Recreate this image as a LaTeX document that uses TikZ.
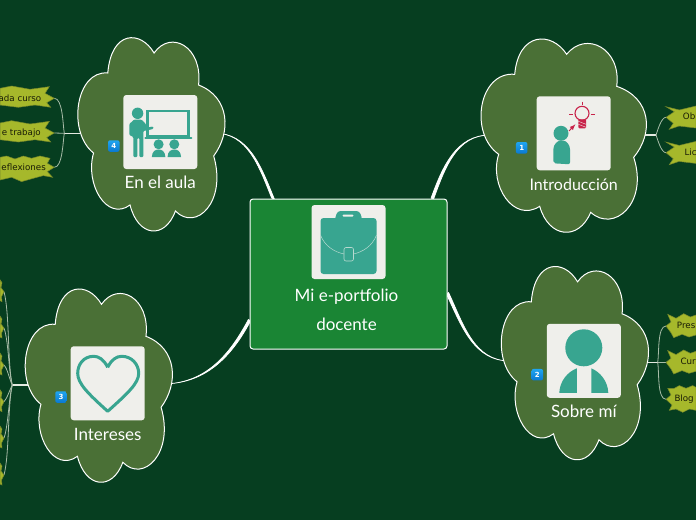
\documentclass[tikz,border=0pt]{standalone}
\usepackage{fontspec}
\setmainfont{DejaVu Sans}
\newfontfamily\handfont{Lato}
\usetikzlibrary{backgrounds,calc}

\definecolor{pagegreen}{HTML}{063E20}
\definecolor{cloudgreen}{HTML}{4A7036}
\definecolor{maingreen}{HTML}{1A8534}
\definecolor{cardgrey}{HTML}{EFEFEB}
\definecolor{iconteal}{HTML}{38A590}
\definecolor{iconred}{HTML}{C8234A}
\definecolor{leafgreen}{HTML}{A6B82B}
\definecolor{leafedge}{HTML}{76882A}
\definecolor{twiggrey}{HTML}{A8BCA8}
\definecolor{badgetop}{HTML}{1FA5F0}
\definecolor{badgebottom}{HTML}{0A78D0}

\newcommand{\trunk}[6]{
\fill [trunkline] ($(#1)+(#5,#6)$) to[out=#3,in=#4] (#2) to[out=#4,in=#3] ($(#1)-(#5,#6)$) -- cycle;
}

\tikzset{
  trunkline/.style={draw=white, fill=white, line width=0.7pt},
  stub/.style={draw=white!85!cloudgreen, line width=1.3pt},
  twig/.style={draw=twiggrey, line width=0.8pt, looseness=0.6},
  cloudline/.style={draw=white, fill=cloudgreen, line width=1pt},
  card/.style={fill=cardgrey, rounded corners=3pt, minimum size=74pt, inner sep=0pt},
  topic/.style={text=white, font=\handfont\fontsize{17}{20}\selectfont},
  badge/.style={top color=badgetop, bottom color=badgebottom, rounded corners=2pt,
    minimum size=11.5pt, inner sep=0pt, text=white, font=\fontsize{7}{8}\bfseries\selectfont},
  leafshape/.style={fill=leafgreen, draw=leafedge, line width=0.5pt},
  leaftext/.style={text=black!85!leafgreen, inner sep=0pt, font=\fontsize{8.7}{11}\selectfont},
  cloud/.pic={
    \draw [cloudline] (-7,-79) .. controls (-22,-102) and (-55,-102) .. (-59,-59)
      .. controls (-95,-62) and (-105,0) .. (-75,21)
      .. controls (-85,52) and (-60,90) .. (-34,73)
      .. controls (-25,105) and (5,108) .. (17,79)
      .. controls (40,100) and (75,70) .. (60,24)
      .. controls (80,0) and (78,-35) .. (43,-47)
      .. controls (48,-85) and (12,-103) .. (-7,-79) -- cycle;
  },
  leftleaf/.pic={
    \filldraw [leafshape] (-54.3,-10) -- (-42.6,-12.3) -- (-24.3,-9) -- (-5,-11.6) -- (-9.3,-5) -- (0,0)
      -- (-7.6,4.4) -- (-3.6,9) -- (-19.3,6.7) -- (-36,9) -- (-54.3,6.7) -- cycle;
  },
  wavyleaf/.pic={
    \filldraw [leafshape] (-54.3,-10) -- (-47.6,-11.3) -- (-39.3,-8.3) -- (-31,-11.3) -- (-22.7,-9) -- (-14.3,-11.3)
      -- (-4.3,-9) -- (-7,-4) -- (0,0) -- (-7,4.3) -- (-1.7,10) -- (-11,8.3) -- (-21,11) -- (-32.7,14.3)
      -- (-42.7,10) -- (-54.3,12.7) -- cycle;
  },
  rightleaf/.pic={
    \filldraw [leafshape] (0,-10.6) -- (13.3,-7.3) -- (30,-11.3) -- (30,10.7) -- (13,8.7) -- (3.3,12)
      -- (7.3,6) -- (0,0) -- (8.3,-5.6) -- cycle;
  },
  spikyleaf/.pic={
    \filldraw [leafshape] (1.7,-11.7) -- (10,-7.7) -- (17.7,-12.3) -- (24.3,-9) -- (30,-11) -- (30,9) -- (23,11)
      -- (16,8.3) -- (7.7,11.7) -- (5,6.7) -- (0,0) -- (5,-4) -- cycle;
  },
  blogleaf/.pic={
    \filldraw [leafshape] (1.7,-11) -- (8.3,-11) -- (13.3,-13.7) -- (20,-11) -- (26.7,-13.7) -- (30,-12) -- (30,11)
      -- (23.3,9.7) -- (16.7,13) -- (10,9.7) -- (3.3,11) -- (6,5.7) -- (0,0) -- (5,-4.3) -- cycle;
  },
  sideleaf/.pic={
    \filldraw [leafshape] (-4,-12) -- (-2,-9) -- (-3,-4) -- (0,0) -- (-2.5,5) -- (-2,10) -- (-4,9) -- cycle;
  },
  bagicon/.pic={
    \fill [iconteal, rounded corners=3pt] (-14,-22) -- (-11,-31) -- (11,-31) -- (14,-22) -- cycle;
    \fill [iconteal, rounded corners=3pt] (-28,-24) rectangle (28,32);
    \fill [cardgrey, rounded corners=1pt] (-6,-27.5) rectangle (5,-25.5);
    \draw [cardgrey!70!iconteal, line width=0.5pt] (-28,-7) .. controls (-24,4) and (-14,10) .. (-4.5,12);
    \draw [cardgrey!70!iconteal, line width=0.5pt] (28,-7) .. controls (24,4) and (14,10) .. (5,12);
    \draw [cardgrey!70!iconteal, line width=0.6pt, rounded corners=2pt] (-4.5,5.5) rectangle (5,19);
  },
  introicon/.pic={
    \fill [iconteal] (-12.7,0) circle (7.5);
    \fill [iconteal, rounded corners=2pt] (-20.3,30) -- (-20.3,17) .. controls (-20,11) and (-16,7.5) .. (-12,7.5)
      .. controls (-7,7.5) and (-3.7,12) .. (-3.7,18) -- (-3.7,31) -- cycle;
    \draw [iconred, line width=1pt, -latex] (-4.7,-2.3) -- (1.7,-9);
    \draw [iconred, line width=1.1pt] (8.3,-20) circle (7);
    \fill [iconred, rounded corners=1pt] (4.7,-14) rectangle (12.3,-5);
    \draw [cardgrey, line width=0.4pt] (4.7,-12) -- (12.3,-9) (4.7,-9) -- (12.3,-6);
    \draw [iconred, line width=1pt] (8.3,-31.7) -- (8.3,-28) (-4.3,-19.3) -- (-0.3,-19.3) (17,-19.3) -- (21,-19.3);
  },
  teachicon/.pic={
    \fill [iconteal] (-22.7,-18.7) circle (5.7);
    \fill [iconteal, rounded corners=1pt] (-26,-12.5) -- (-19,-12.5) -- (-14.5,-8) -- (-13.5,-4.5) -- (-7,-5.5) -- (-7,-3)
      -- (-17,-1) -- (-17,25) -- (-21,25) -- (-21,6) -- (-23,6) -- (-23,25) -- (-27,25) -- (-27,5) -- (-31,3) -- (-31,-8) -- cycle;
    \draw [iconteal, line width=2.4pt] (-13,-21) rectangle (28,4);
    \draw [iconteal, line width=2pt, line cap=round] (-15,5.5) -- (31,5.5);
    \foreach \sx in {-1.7,14} {
      \fill [iconteal] (\sx,12.3) circle (5);
      \fill [iconteal] (\sx-6.8,25) .. controls (\sx-6.5,19) and (\sx-3,17.5) .. (\sx,17.5)
        .. controls (\sx+3,17.5) and (\sx+6.5,19) .. (\sx+6.8,25) -- cycle;
    }
  },
  personicon/.pic={
    \fill [iconteal] (0,-13) circle (18.5);
    \fill [iconteal] (-7,7.5) -- (-7,32) -- (-24.5,32) .. controls (-24,20) and (-16,11) .. (-7,7.5) -- cycle;
    \fill [iconteal] (7.5,7.5) -- (7.5,32) -- (24.5,32) .. controls (24,20) and (16,11) .. (7.5,7.5) -- cycle;
  },
  hearticon/.pic={
    \draw [iconteal, line width=3pt, line join=round] (0,-16) .. controls (-4,-24) and (-9,-27) .. (-14,-27)
      .. controls (-24,-27) and (-30,-19) .. (-30,-10) .. controls (-30,0) and (-20,10) .. (0,28)
      .. controls (20,10) and (31,0) .. (31,-10) .. controls (31,-19) and (24,-27) .. (14,-27)
      .. controls (9,-27) and (4,-24) .. (0,-16);
  }
}

\begin{document}
\begin{tikzpicture}[x=1pt, y=-1pt]

\useasboundingbox (0,0) rectangle (696,520);

\begin{scope}[on background layer]
\fill [pagegreen] (0,0) rectangle (696,520);
\end{scope}

\pic at (573.7,133.3) {cloud};
\pic [xscale=0.89] at (160.3,132) {cloud};
\pic [xscale=0.89] at (107.7,383.3) {cloud};
\pic [xscale=0.89] at (583.8,360.8) {cloud};

\node [fill=maingreen, draw=white, line width=1pt, rounded corners=3pt, minimum width=197pt, minimum height=150pt] (main) at (348.5,274) {};

\node [card] (bagcard) at (348.5,242) {};
\node [card] (intro) at (573.7,133.3) {};
\node [card] (aula) at (160.3,132) {};
\node [card] (intereses) at (107.7,383.3) {};
\node [card] (sobre) at (583.8,360.8) {};

\pic at (bagcard) {bagicon};
\pic at (intro) {introicon};
\pic at (aula) {teachicon};
\pic at (intereses) {hearticon};
\pic at (sobre) {personicon};

\node [topic, align=center] (maintitle) at (346.5,310) {Mi e-portfolio\\[9pt]docente};
\node [topic, font=\handfont\fontsize{16}{20}\selectfont] (introtitle) at (573.7,185) {Introducción};
\node [topic] (aulatitle) at (160.3,182.7) {En el aula};
\node [topic] (interesestitle) at (107.7,434) {Intereses};
\node [topic] (sobretitle) at (583.8,411.7) {Sobre mí};

\node [badge] (badgeone) at ($(intro)+(-52,14.5)$) {1};
\node [badge] (badgetwo) at ($(sobre)+(-46.5,13.9)$) {2};
\node [badge] (badgethree) at ($(intereses)+(-46.7,13.7)$) {3};
\node [badge] (badgefour) at ($(aula)+(-46.5,14)$) {4};

\coordinate (aulain) at (214,133);
\coordinate (introin) at (490,135);
\coordinate (interesesin) at (162,384);
\coordinate (sobrein) at (510,361);

\coordinate (aulahub) at (64.3,133.3);
\coordinate (introhub) at (656,135);
\coordinate (sobrehub) at (657.7,362.3);
\coordinate (intereseshub) at (12.3,385);

\coordinate (tipcurso) at (54.3,98.3);
\coordinate (tiptrabajo) at (54.3,133);
\coordinate (tipreflex) at (54.3,167.3);
\coordinate (tipob) at (666,117.3);
\coordinate (tiplic) at (666,152.7);
\coordinate (tippres) at (666,326);
\coordinate (tipcur) at (666,362.3);
\coordinate (tipblog) at (666,399.3);

\pic at (tipcurso) {leftleaf};
\pic at (tiptrabajo) {leftleaf};
\pic at (tipreflex) {wavyleaf};
\pic at (tipob) {rightleaf};
\pic at (tiplic) {rightleaf};
\pic at (tippres) {spikyleaf};
\pic at (tipcur) {spikyleaf};
\pic at (tipblog) {blogleaf};

\node [leaftext, anchor=east] (curso) at (41.5,98) {ada curso};
\node [leaftext, anchor=east] (trabajo) at (41,132.7) {e trabajo};
\node [leaftext, anchor=east] (reflex) at (46,167.7) {eflexiones};
\node [leaftext, anchor=west] (ob) at (682.7,116.7) {Ob};
\node [leaftext, anchor=west] (lic) at (684.3,152.7) {Lic};
\node [leaftext, anchor=east] (pres) at (695.5,325.7) {Pres};
\node [leaftext, anchor=west] (cur) at (680.3,361.7) {Cur};
\node [leaftext, anchor=west] (blog) at (674.3,399) {Blog};

\begin{scope}[on background layer]
\trunk{main.135}{aulain}{112}{0}{1.3}{0.4}
\trunk{main.42}{introin}{70}{180}{1.3}{0.4}
\trunk{main.205}{interesesin}{242}{0}{1.1}{0.7}
\trunk{main.349}{sobrein}{-65}{180}{1.1}{-0.7}

\draw [stub] (aula) -- (aulahub -| aula) -- (aulahub);
\draw [stub] (intro) -- (introhub -| intro) -- (introhub);
\draw [stub] (sobre) -- (sobrehub -| sobre) -- (sobrehub);
\draw [stub] (intereses) -- (intereseshub -| intereses) -- (intereseshub);

\draw [twig] (aulahub) to[out=100,in=0] (tipcurso);
\draw [twig] (aulahub) -- (tiptrabajo);
\draw [twig] (aulahub) to[out=-100,in=0] (tipreflex);
\draw [twig] (introhub) to[out=70,in=180] (tipob);
\draw [twig] (introhub) to[out=-70,in=180] (tiplic);
\draw [twig] (sobrehub) to[out=80,in=180] (tippres);
\draw [twig] (sobrehub) -- (tipcur);
\draw [twig] (sobrehub) to[out=-80,in=180] (tipblog);
\end{scope}

\foreach \n/\y/\o/\i in {a/291.7/103/-75, b/328/106/-70, c/365/120/-45, d/401.7/-120/45, e/438/-106/70, f/475/-103/75} {
  \coordinate (tipint\n) at (4,\y);
  \pic at (tipint\n) {sideleaf};
  \begin{scope}[on background layer]
  \draw [twig] (intereseshub) to[out=\o,in=\i] (tipint\n);
  \end{scope}
}

\end{tikzpicture}
\end{document}
